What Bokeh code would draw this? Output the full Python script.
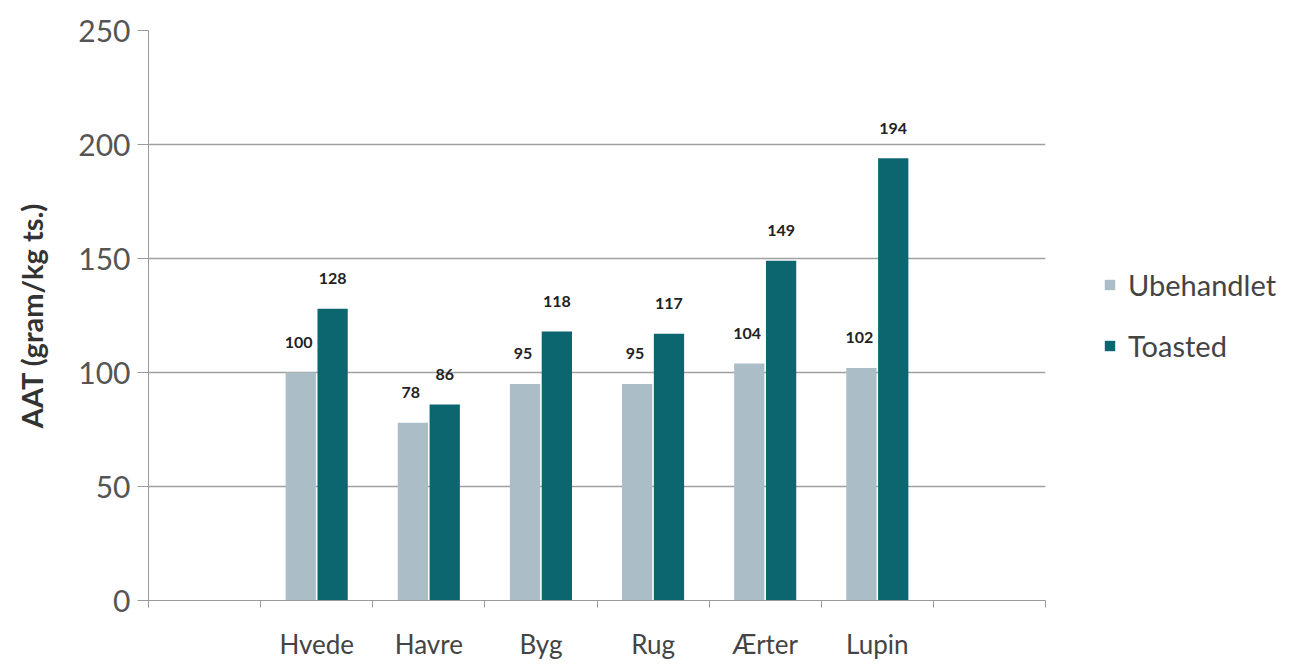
from bokeh.plotting import figure
from bokeh.models import (ColumnDataSource, Range1d, FixedTicker, LabelSet, Legend, LegendItem)
from bokeh.core.properties import value
from bokeh.transform import dodge
from bokeh.embed import file_html
from bokeh.resources import INLINE

categories = ["Hvede", "Havre", "Byg", "Rug", "Ærter", "Lupin"]
ubehandlet = [100, 78, 95, 95, 104, 102]
toasted = [128, 86, 118, 117, 149, 194]
series_names = ["Ubehandlet", "Toasted"]
y_ticks = [0, 50, 100, 150, 200, 250]

FONT = "Lato"
LIGHT = "#abbec7"
DARK = "#0c6670"

xpos = [i + 1.5 for i in range(len(categories))]
src = ColumnDataSource(dict(
    x=xpos, cat=categories,
    u=ubehandlet, t=toasted,
    ul=[str(v) for v in ubehandlet], tl=[str(v) for v in toasted],
))

p = figure(frame_width=897, frame_height=570, output_backend="svg", toolbar_location=None,
           x_range=Range1d(0, len(categories) + 2), y_range=Range1d(0, 250),
           min_border_left=148, min_border_right=263, min_border_top=30, min_border_bottom=64)
p.outline_line_color = None
p.background_fill_color = "white"
p.border_fill_color = "white"

r1 = p.vbar(x=dodge("x", -0.142, range=p.x_range), top="u", width=0.27, source=src,
            fill_color=LIGHT, line_color=None)
r2 = p.vbar(x=dodge("x", 0.142, range=p.x_range), top="t", width=0.27, source=src,
            fill_color=DARK, line_color=None)

for col, lab, off in (("u", "ul", -0.16), ("t", "tl", 0.142)):
    ls = LabelSet(x=dodge("x", off, range=p.x_range), y=col, text=lab, source=src,
                  text_align="center", text_baseline="middle", y_offset=30,
                  text_font=value(FONT), text_font_style="bold", text_font_size="16px",
                  text_color="#222222")
    p.add_layout(ls)

# y axis
p.yaxis.ticker = FixedTicker(ticks=y_ticks)
p.yaxis.major_label_text_font = FONT
p.yaxis.major_label_text_font_size = "30px"
p.yaxis.major_label_text_color = "#555555"
p.yaxis.axis_line_color = "#9a9a9a"
p.yaxis.major_tick_line_color = "#9a9a9a"
p.yaxis.major_tick_in = 0
p.yaxis.major_tick_out = 11
p.yaxis.minor_tick_line_color = None
p.yaxis.major_label_standoff = 7
p.yaxis.axis_label = "AAT (gram/kg ts.)"
p.yaxis.axis_label_text_font = FONT
p.yaxis.axis_label_text_font_style = "bold"
p.yaxis.axis_label_text_font_size = "29px"
p.yaxis.axis_label_text_color = "#333333"
p.yaxis.axis_label_standoff = 26

# x axis: labels at centres, tick marks at slot boundaries
p.xaxis.ticker = FixedTicker(ticks=xpos, minor_ticks=list(range(len(categories) + 3)))
p.xaxis.major_label_overrides = {x: c for x, c in zip(xpos, categories)}
p.xaxis.major_tick_line_color = None
p.xaxis.minor_tick_line_color = "#9a9a9a"
p.xaxis.minor_tick_in = 0
p.xaxis.minor_tick_out = 7
p.xaxis.axis_line_color = "#9a9a9a"
p.xaxis.major_label_text_font = FONT
p.xaxis.major_label_text_font_size = "26px"
p.xaxis.major_label_text_color = "#444444"
p.xaxis.major_label_standoff = 20

p.xgrid.grid_line_color = None
p.ygrid.ticker = FixedTicker(ticks=y_ticks)
p.ygrid.grid_line_color = "#a0a0a0"
p.ygrid.grid_line_width = 1.5

legend = Legend(items=[LegendItem(label=series_names[0], renderers=[r1]),
                       LegendItem(label=series_names[1], renderers=[r2])],
                location="center_left", border_line_color=None,
                label_text_font=FONT, label_text_font_size="29px",
                label_text_color="#444444", glyph_width=13, glyph_height=13,
                spacing=26, padding=0, margin=58, label_standoff=12)
p.add_layout(legend, "right")

open("out.html", "w").write(file_html(p, INLINE))
